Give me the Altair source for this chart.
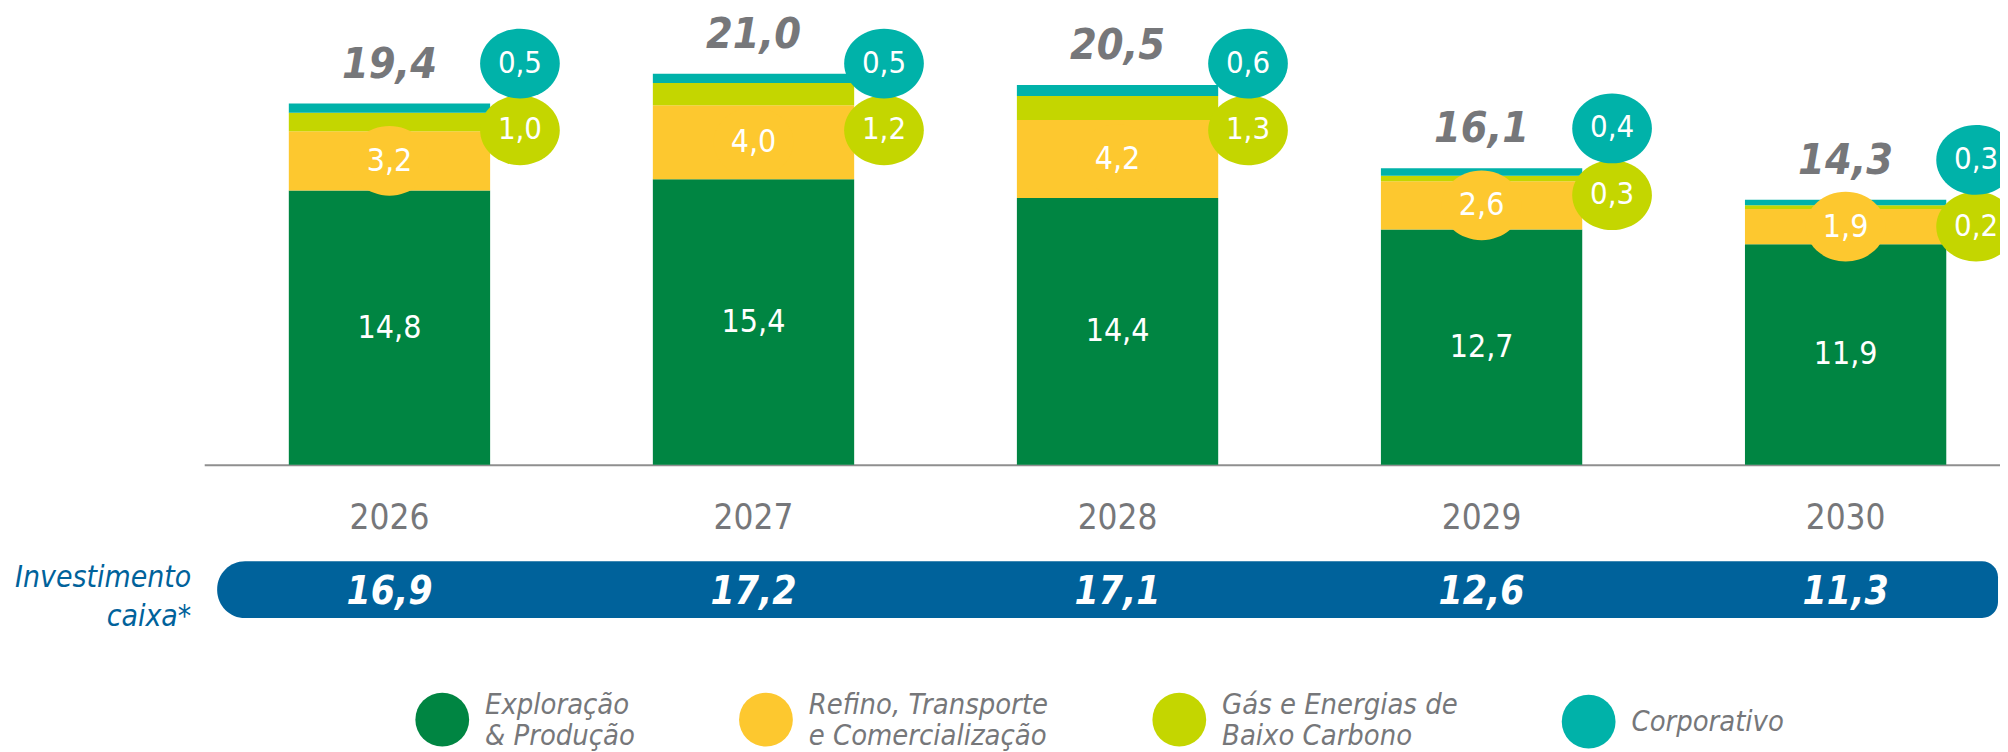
import altair as alt
import pandas as pd

# ---------------- data ----------------
years = ["2026", "2027", "2028", "2029", "2030"]
segments = [
    "Exploração\n& Produção",
    "Refino, Transporte\ne Comercialização",
    "Gás e Energias de\nBaixo Carbono",
    "Corporativo",
]
ep = [14.8, 15.4, 14.4, 12.7, 11.9]
rtc = [3.2, 4.0, 4.2, 2.6, 1.9]
gebc = [1.0, 1.2, 1.3, 0.3, 0.2]
corp = [0.5, 0.5, 0.6, 0.4, 0.3]
totals = [19.4, 21.0, 20.5, 16.1, 14.3]
caixa = [16.9, 17.2, 17.1, 12.6, 11.3]
colors = ["#008542", "#FDC82F", "#C4D600", "#00B2A9"]

GRAY = "#76777a"
BLUE = "#00629B"
FONT = "Liberation Sans Narrow, DejaVu Sans Condensed, Arial Narrow, Roboto, sans-serif"
ELLIPSE = "M-1,0A1,0.875,0,1,1,1,0A1,0.875,0,1,1,-1,0Z"


def fmt(v):
    return f"{v:.1f}".replace(".", ",")


series = [ep, rtc, gebc, corp]
rows = []
tops = []
for i, y in enumerate(years):
    cum = 0.0
    for k, (s, vals) in enumerate(zip(segments, series)):
        v = vals[i]
        rows.append({"year": y, "segment": s, "start": cum, "end": cum + v,
                     "mid": cum + v / 2, "label": fmt(v), "order": k})
        cum += v
    tops.append(cum)
long = pd.DataFrame(rows)
long["top"] = long["year"].map(dict(zip(years, tops)))

tot_df = pd.DataFrame({"year": years, "top": tops, "label": [fmt(t) for t in totals]})
caixa_df = pd.DataFrame({"year": years, "label": [fmt(c) for c in caixa]})
one = pd.DataFrame({"k": [0]})

xscale = alt.Scale(domain=years, range=[0, 1834], paddingInner=0.447, paddingOuter=0.2324)
yscale = alt.Scale(domain=[0, 24.57], nice=False)
XS = alt.X("year:N", scale=xscale)

X = alt.X("year:N", scale=xscale, sort=years,
          axis=alt.Axis(title=None, labelAngle=0, ticks=False, tickSize=0,
                        domainColor="#8f8f8f", domainWidth=2,
                        labelFont=FONT, labelFontSize=35, labelColor=GRAY,
                        labelPadding=53, labelBaseline="middle"))

base = alt.Chart(long)

bars = base.mark_bar().encode(
    x=X,
    y=alt.Y("start:Q", scale=yscale, axis=None),
    y2="end:Q",
    color=alt.Color("segment:N", scale=alt.Scale(domain=segments, range=colors),
                    legend=alt.Legend(title=None, orient="none", direction="horizontal",
                                      legendX=212, legendY=686, padding=0,
                                      symbolType="circle", symbolSize=2916,
                                      symbolStrokeWidth=0, symbolOpacity=1,
                                      labelFont=FONT, labelFontSize=29,
                                      labelFontStyle="italic", labelColor=GRAY,
                                      labelOffset=16, columnPadding=104, labelLimit=0,
                                      labelBaseline=alt.ExprRef(
                                          "datum.label == 'Corporativo' ? 'middle' : 'bottom'"),
                                      labelExpr="split(datum.label, '\\n')")),
    order=alt.Order("order:Q"),
)

yellow_dot = base.transform_filter(alt.datum.order == 1).mark_point(
    shape=ELLIPSE, size=6400, filled=True, opacity=1, color=colors[1], strokeWidth=0
).encode(x=XS, y=alt.Y("mid:Q", scale=yscale))

seg_labels = base.transform_filter(alt.datum.order <= 1).mark_text(
    font=FONT, fontSize=32, color="white", baseline="middle"
).encode(x=XS, y=alt.Y("mid:Q", scale=yscale), text="label:N")

# side bubbles: placed just above the bar top, never higher than a ceiling
side = base.transform_calculate(tpos="min(datum.top + 2.15, 21.65)")

lime_dot = side.transform_filter(alt.datum.order == 2).mark_point(
    shape=ELLIPSE, size=6400, filled=True, opacity=1, color=colors[2], strokeWidth=0,
    xOffset=131, yOffset=67
).encode(x=XS, y=alt.Y("tpos:Q", scale=yscale))
lime_lab = side.transform_filter(alt.datum.order == 2).mark_text(
    font=FONT, fontSize=31, color="white", baseline="middle", dx=131, dy=67
).encode(x=XS, y=alt.Y("tpos:Q", scale=yscale), text="label:N")

teal_dot = side.transform_filter(alt.datum.order == 3).mark_point(
    shape=ELLIPSE, size=6400, filled=True, opacity=1, color=colors[3], strokeWidth=0,
    xOffset=131
).encode(x=XS, y=alt.Y("tpos:Q", scale=yscale))
teal_lab = side.transform_filter(alt.datum.order == 3).mark_text(
    font=FONT, fontSize=31, color="white", baseline="middle", dx=131
).encode(x=XS, y=alt.Y("tpos:Q", scale=yscale), text="label:N")

tot_lab = alt.Chart(tot_df).mark_text(
    font=FONT, fontSize=43, fontWeight="bold", fontStyle="italic", color=GRAY,
    baseline="middle", dy=-39
).encode(x=XS, y=alt.Y("top:Q", scale=yscale), text="label:N")

pill = alt.Chart(one).mark_rect(
    color=BLUE, cornerRadiusTopLeft=28, cornerRadiusBottomLeft=28,
    cornerRadiusTopRight=16, cornerRadiusBottomRight=16
).encode(x=alt.value(13), x2=alt.value(1801), y=alt.value(554), y2=alt.value(611))

caixa_lab = alt.Chart(caixa_df).mark_text(
    font=FONT, fontSize=39, fontWeight="bold", fontStyle="italic", color="white",
    baseline="middle"
).encode(x=XS, y=alt.value(584.5), text="label:N")

inv_lab = alt.Chart(one).mark_text(
    text=["Investimento", "caixa*"], font=FONT, fontSize=30, fontStyle="italic",
    color=BLUE, align="right", baseline="alphabetic", lineHeight=39
).encode(x=alt.value(-13), y=alt.value(580))

chart = alt.layer(
    bars, yellow_dot, seg_labels, lime_dot, lime_lab, teal_dot, teal_lab, tot_lab,
    pill, caixa_lab, inv_lab
).properties(
    width=1803, height=457,
    autosize=alt.AutoSizeParams(type="none"),
    padding={"left": 197, "top": 0, "right": 0, "bottom": 287},
).configure(background="white").configure_view(strokeWidth=0, stroke="transparent")

chart.save("out.html", embed_options={"renderer": "svg", "actions": False})
